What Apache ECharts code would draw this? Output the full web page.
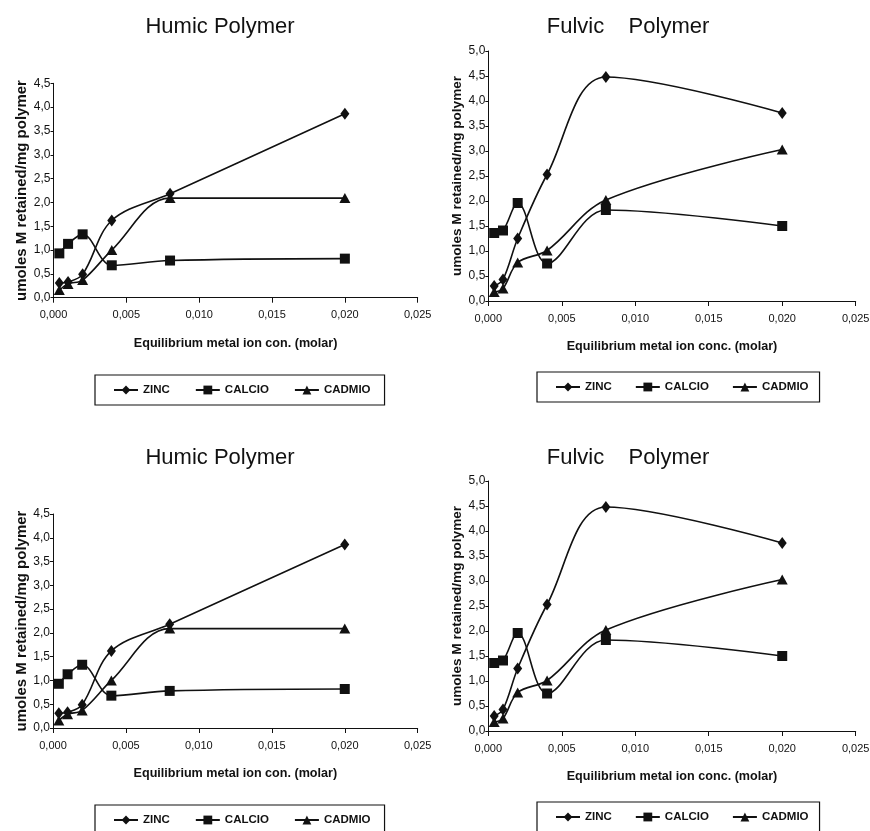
<!DOCTYPE html>
<html>
<head>
<meta charset="utf-8">
<script src="https://cdn.jsdelivr.net/npm/echarts@6/dist/echarts.min.js"></script>
<style>
html,body{margin:0;padding:0;background:#fff;}
#c{width:870px;height:831px;}
</style>
</head>
<body>
<div id="c"></div>
<script>
// ---- data ----
const xValues = [0.0004, 0.001, 0.002, 0.004, 0.008, 0.020];
const seriesNames = ['ZINC', 'CALCIO', 'CADMIO'];
const humicZinc   = [0.31, 0.33, 0.49, 1.62, 2.18, 3.86];
const humicCalcio = [0.93, 1.13, 1.33, 0.68, 0.78, 0.82];
const humicCadmio = [0.16, 0.29, 0.37, 1.00, 2.09, 2.09];
const fulvicZinc   = [0.30, 0.43, 1.25, 2.53, 4.48, 3.76];
const fulvicCalcio = [1.36, 1.41, 1.96, 0.75, 1.82, 1.50];
const fulvicCadmio = [0.18, 0.25, 0.77, 1.01, 2.02, 3.03];
const panelTitles = ['Humic Polymer', 'Fulvic    Polymer', 'Humic Polymer', 'Fulvic    Polymer'];
const xAxisNames = ['Equilibrium metal ion con. (molar)', 'Equilibrium metal ion conc. (molar)',
                    'Equilibrium metal ion con. (molar)', 'Equilibrium metal ion conc. (molar)'];
const yAxisName = 'umoles M retained/mg polymer';
const xAxisMax = 0.025, xAxisStep = 0.005;
const yAxisStep = 0.5;
const humicYMax = 4.5, fulvicYMax = 5.0;

// ---- layout ----
const SANS = "'Liberation Sans', Arial, sans-serif";
const panels = [
  {grid:{left:53.5, top:83.3, width:364.2, height:214.4}, yMax:humicYMax, vals:[humicZinc, humicCalcio, humicCadmio],
   title:{x:215, y:11}, legend:{left:95, top:375, gap:25, pr:14}, yNameGap:24, yNameSize:15},
  {grid:{left:488.3, top:51, width:367.4, height:250}, yMax:fulvicYMax, vals:[fulvicZinc, fulvicCalcio, fulvicCadmio],
   title:{x:623, y:11}, legend:{left:537, top:372, gap:23, pr:11}, yNameGap:22, yNameSize:13.6},
  {grid:{left:53, top:514, width:364.7, height:214}, yMax:humicYMax, vals:[humicZinc, humicCalcio, humicCadmio],
   title:{x:215, y:442}, legend:{left:95, top:805, gap:25, pr:14}, yNameGap:24, yNameSize:15},
  {grid:{left:488.3, top:481, width:367.4, height:250}, yMax:fulvicYMax, vals:[fulvicZinc, fulvicCalcio, fulvicCadmio],
   title:{x:623, y:442}, legend:{left:537, top:802, gap:23, pr:11}, yNameGap:22, yNameSize:13.6}
];
const symbols = [
  {symbol:'diamond', size:[9,12]},
  {symbol:'rect', size:[10,10]},
  {symbol:'triangle', size:[11,10]}
];

const comma = (v, d) => v.toFixed(d).replace('.', ',');

const option = {
  animation: false,
  backgroundColor: '#fff',
  title: [], grid: [], xAxis: [], yAxis: [], legend: [], series: []
};

panels.forEach((p, i) => {
  option.title.push({
    text: panelTitles[i], left: p.title.x, top: p.title.y, textAlign: 'center',
    textStyle: {fontFamily: SANS, fontSize: 22, fontWeight: 'normal', color: '#111'}
  });
  option.grid.push(Object.assign({containLabel:false, outerBoundsMode:'none'}, p.grid));
  option.xAxis.push({
    type: 'value', gridIndex: i, min: 0, max: xAxisMax, interval: xAxisStep,
    name: xAxisNames[i], nameLocation: 'middle', nameGap: 39,
    nameTextStyle: {fontFamily: SANS, fontWeight: 'bold', fontSize: 12.6, color: '#111'},
    axisLine: {lineStyle: {color: '#111', width: 1}},
    axisTick: {show: true, length: 5, inside: false, lineStyle: {color: '#111'}},
    axisLabel: {fontFamily: SANS, fontSize: 11, color: '#111', margin: 12, formatter: v => comma(v, 3)},
    splitLine: {show: false}
  });
  option.yAxis.push({
    type: 'value', gridIndex: i, min: 0, max: p.yMax, interval: yAxisStep,
    name: yAxisName, nameLocation: 'middle', nameGap: p.yNameGap, nameRotate: 90,
    nameTextStyle: {fontFamily: SANS, fontWeight: 'bold', fontSize: p.yNameSize, color: '#111'},
    axisLine: {show: true, lineStyle: {color: '#111', width: 1}},
    axisTick: {show: true, length: 3, lineStyle: {color: '#111'}},
    axisLabel: {fontFamily: SANS, fontSize: 12, color: '#111', margin: 3, formatter: v => comma(v, 1)},
    splitLine: {show: false}
  });
  option.legend.push({
    left: p.legend.left, top: p.legend.top, orient: 'horizontal',
    data: seriesNames, itemGap: p.legend.gap, itemWidth: 24, itemHeight: 11,
    padding: [9, p.legend.pr, 9, 18], borderColor: '#111', borderWidth: 1.2,
    textStyle: {fontFamily: SANS, fontWeight: 'bold', fontSize: 11.5, color: '#111'},
    selectedMode: false
  });
  seriesNames.forEach((name, k) => {
    option.series.push({
      type: 'line', name: name, xAxisIndex: i, yAxisIndex: i,
      data: xValues.map((x, j) => [x, p.vals[k][j]]),
      smooth: 0.35, smoothConstraint: false,
      symbol: symbols[k].symbol, symbolSize: symbols[k].size,
      lineStyle: {color: '#111', width: 1.6},
      itemStyle: {color: '#111'},
      z: 3
    });
  });
});

const chart = echarts.init(document.getElementById('c'), null, {renderer: 'canvas'});
chart.setOption(option);
</script>
</body>
</html>
